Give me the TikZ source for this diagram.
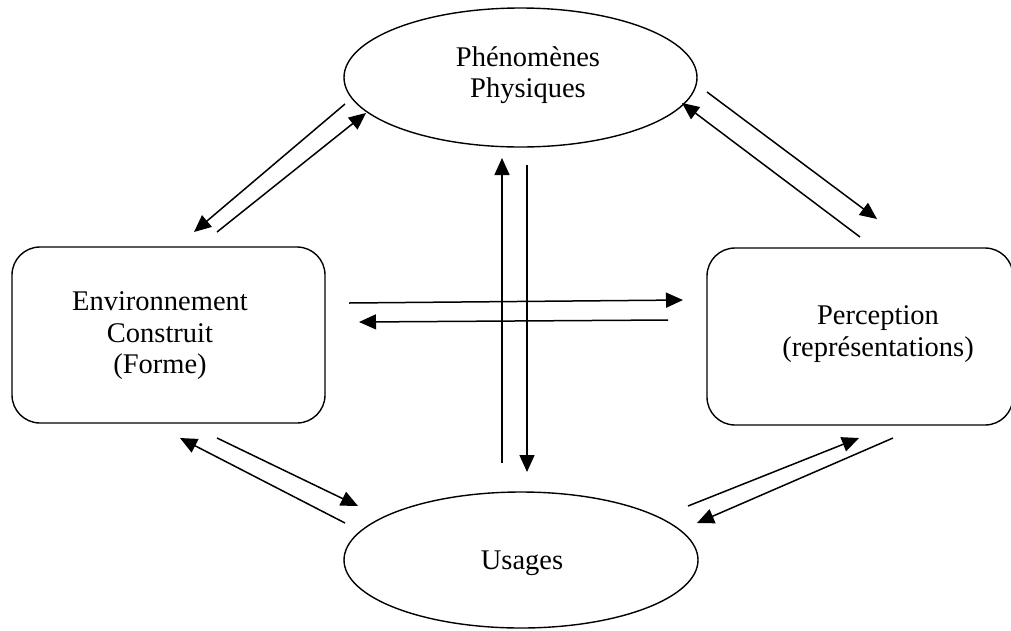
\documentclass[tikz,border=0pt]{standalone}
\usepackage{fontspec}
\setmainfont{Liberation Serif}
\usetikzlibrary{arrows.meta,shapes.geometric}
\begin{document}
\begin{tikzpicture}[x=1pt,y=-1pt,
  shapeline/.style={draw=black, line width=1.4pt},
  ell/.style={shapeline, ellipse, inner sep=0pt},
  rbox/.style={shapeline, rectangle, rounded corners=28pt, inner sep=0pt},
  lbl/.style={align=center, inner sep=0pt, font=\fontsize{28.5}{31.5}\selectfont},
  arr/.style={-{Triangle[length=17pt,width=15pt]}, line width=1.5pt}
]
\useasboundingbox (0,0) rectangle (1011,630);

% shapes
\node[ell, minimum width=353pt, minimum height=139pt] (phen) at (520.5,77.5) {};
\node[ell, minimum width=354pt, minimum height=136pt] (usag) at (521,560) {};
\node[rbox, minimum width=313pt, minimum height=176pt] (env) at (168.5,335) {};
\node[rbox, minimum width=306pt, minimum height=177pt] (perc) at (860,336.5) {};

% texts
\node[lbl] (phentxt) at (528,75) {Phénomènes\\Physiques};
\node[lbl] (usagtxt) at (522,563) {Usages};
\node[lbl] (envtxt) at (160,336) {Environnement\\Construit\\(Forme)};
\node[lbl] (perctxt) at (878,334) {Perception\\(représentations)};

% arrow end points
\coordinate (a1s) at (345,104);  \coordinate (a1e) at (194,232);
\coordinate (a2s) at (217,232);  \coordinate (a2e) at (366,113);
\coordinate (a3s) at (860,237);  \coordinate (a3e) at (682,103);
\coordinate (a4s) at (707,92);   \coordinate (a4e) at (877,219);
\coordinate (a5s) at (349,303);  \coordinate (a5e) at (683,300);
\coordinate (a6s) at (668,320);  \coordinate (a6e) at (359,322);
\coordinate (a7s) at (345,523);  \coordinate (a7e) at (180,438);
\coordinate (a8s) at (217,438);  \coordinate (a8e) at (358,506);
\coordinate (a9s) at (688,506);  \coordinate (a9e) at (859,438);
\coordinate (a10s) at (893,438); \coordinate (a10e) at (697,523);
\coordinate (a11s) at (502,463); \coordinate (a11e) at (502,158);
\coordinate (a12s) at (527,165); \coordinate (a12e) at (527,472);

\draw[arr] (a1s) -- (a1e);
\draw[arr] (a2s) -- (a2e);
\draw[arr] (a3s) -- (a3e);
\draw[arr] (a4s) -- (a4e);
\draw[arr] (a5s) -- (a5e);
\draw[arr] (a6s) -- (a6e);
\draw[arr] (a7s) -- (a7e);
\draw[arr] (a8s) -- (a8e);
\draw[arr] (a9s) -- (a9e);
\draw[arr] (a10s) -- (a10e);
\draw[arr] (a11s) -- (a11e);
\draw[arr] (a12s) -- (a12e);
\end{tikzpicture}
\end{document}
